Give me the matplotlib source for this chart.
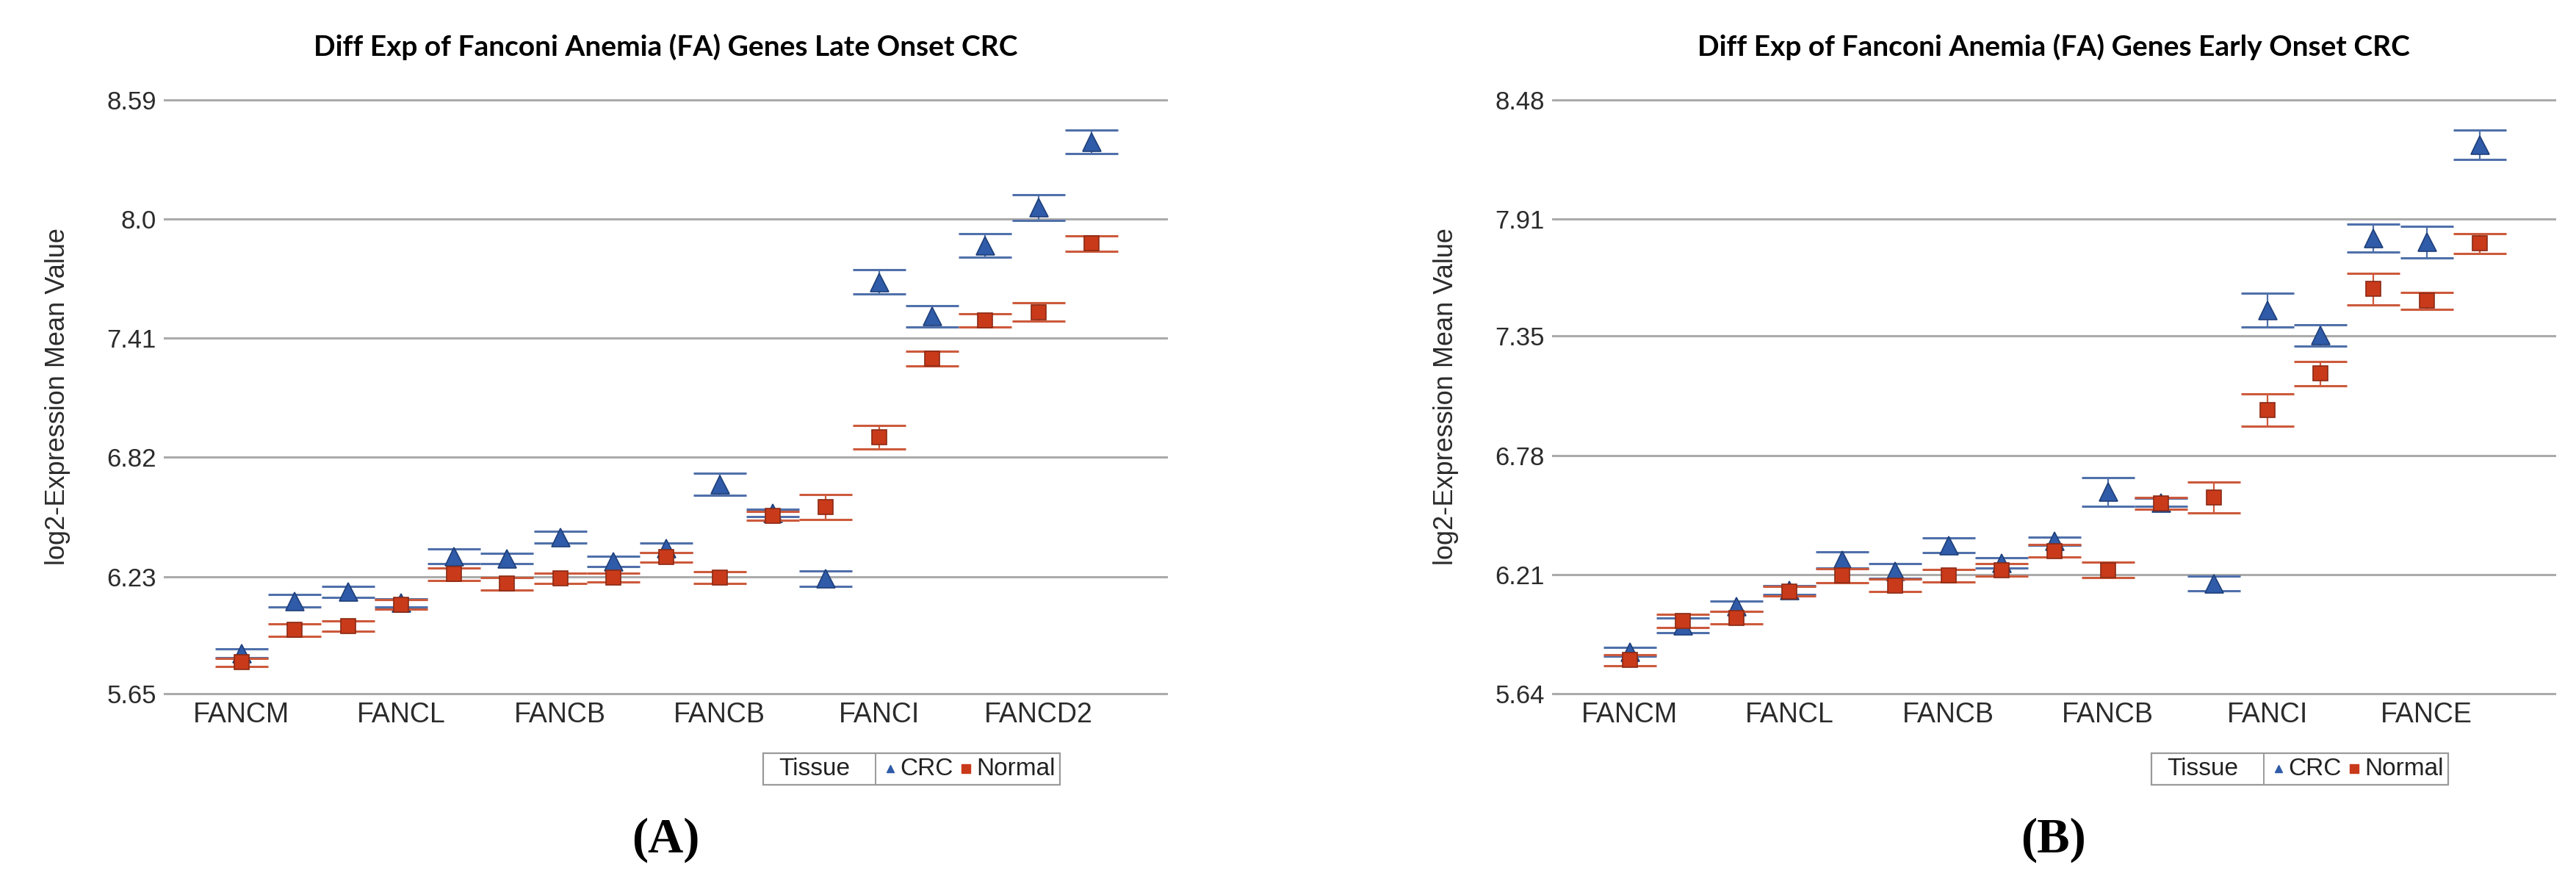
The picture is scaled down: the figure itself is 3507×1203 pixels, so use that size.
"""
Diff Exp of Fanconi Anemia (FA) Genes – Late vs. Early Onset CRC.
Mittelwerte +/- Fehlerbalken pro Gen, CRC vs. Normal.
"""

import matplotlib
matplotlib.use("Agg")
import matplotlib.pyplot as plt
from matplotlib.patches import Rectangle
import numpy as np

# ── Daten ─────────────────────────────────────────────────────────────────────

n_genes = 17
tick_every = 3

late_tick_labels = ["FANCM", "FANCL", "FANCB", "FANCB", "FANCI", "FANCD2"]
early_tick_labels = ["FANCM", "FANCL", "FANCB", "FANCB", "FANCI", "FANCE"]

late_yticks = [5.65, 6.23, 6.82, 7.41, 8.0, 8.59]
early_yticks = [5.64, 6.21, 6.78, 7.35, 7.91, 8.48]

late_crc = [5.85, 6.11, 6.154, 6.10, 6.33, 6.32, 6.425, 6.305, 6.372,
            6.687, 6.545, 6.221, 7.689, 7.519, 7.87, 8.057, 8.384]
late_crc_err = [0.022, 0.032, 0.028, 0.02, 0.035, 0.026, 0.028, 0.024, 0.024,
                0.056, 0.018, 0.038, 0.061, 0.054, 0.057, 0.065, 0.058]
late_normal = [5.805, 5.965, 5.986, 6.091, 6.242, 6.194, 6.221, 6.225, 6.326,
               6.225, 6.53, 6.574, 6.92, 7.309, 7.498, 7.54, 7.88]
late_normal_err = [0.02, 0.032, 0.026, 0.023, 0.03, 0.032, 0.026, 0.023, 0.024,
                   0.028, 0.022, 0.063, 0.058, 0.035, 0.034, 0.047, 0.038]

early_crc = [5.84, 5.968, 6.059, 6.135, 6.28, 6.228, 6.35, 6.266, 6.37,
             6.605, 6.555, 6.167, 7.474, 7.354, 7.819, 7.80, 8.265]
early_crc_err = [0.02, 0.035, 0.025, 0.02, 0.038, 0.035, 0.035, 0.025, 0.02,
                 0.068, 0.02, 0.034, 0.081, 0.051, 0.066, 0.074, 0.071]
early_normal = [5.80, 5.988, 6.003, 6.13, 6.205, 6.157, 6.205, 6.232, 6.323,
                6.232, 6.55, 6.579, 6.997, 7.171, 7.575, 7.52, 7.794]
early_normal_err = [0.025, 0.03, 0.03, 0.024, 0.034, 0.03, 0.03, 0.03, 0.03,
                    0.036, 0.027, 0.073, 0.076, 0.058, 0.074, 0.04, 0.047]

# ── Stil ──────────────────────────────────────────────────────────────────────

CRC_FILL = "#2F5BA8"
CRC_EDGE = "#1F3F7A"
CRC_CAP = "#5070AA"
NOR_FILL = "#C93A1A"
NOR_EDGE = "#8B2A14"
NOR_CAP = "#CC5A3C"
GRID = "#ABABAB"
TXT = "#2B2B2B"
SANS = "Liberation Sans"

W, H = 3507, 1203


def panel(fig, left_px, title, tick_labels, yticks, crc, crc_err, nor, nor_err, tag):
    ax = fig.add_axes([left_px / W, 1 - 944 / H, 1364 / W, (944 - 136) / H])
    x = np.arange(n_genes)

    ax.set_xlim(-1.45, 17.41)
    ax.set_ylim(yticks[0], yticks[-1])
    for s in ax.spines.values():
        s.set_visible(False)

    for yv in yticks:
        ax.axhline(yv, color=GRID, lw=2.2, zorder=0, clip_on=False)

    # CRC zuerst, Normal liegt darueber
    ax.errorbar(x, crc, yerr=crc_err, fmt="none", ecolor=CRC_CAP,
                elinewidth=1.6, capsize=26, capthick=2.2, zorder=2, clip_on=False)
    ax.plot(x, crc, ls="none", marker="^", ms=18, mfc=CRC_FILL, mec=CRC_EDGE,
            mew=1.2, zorder=3, clip_on=False)
    ax.errorbar(x, nor, yerr=nor_err, fmt="none", ecolor=NOR_CAP,
                elinewidth=1.6, capsize=26, capthick=2.2, zorder=4, clip_on=False)
    ax.plot(x, nor, ls="none", marker="s", ms=15, mfc=NOR_FILL, mec=NOR_EDGE,
            mew=1.2, zorder=5, clip_on=False)

    ax.set_xticks(x[::tick_every])
    ax.set_xticklabels(tick_labels, fontsize=27, family=SANS, color=TXT)
    ax.set_yticks(yticks)
    ax.set_yticklabels([f"{v:g}" if v != 8.0 else "8.0" for v in yticks],
                       fontsize=25, family=SANS, color=TXT)
    ax.tick_params(axis="both", length=0)
    ax.tick_params(axis="x", pad=8)
    ax.tick_params(axis="y", pad=8)

    ax.text(-0.107, 0.5, "log2-Expression Mean Value", rotation=90,
            ha="center", va="center", fontsize=26, family=SANS, color=TXT,
            transform=ax.transAxes)
    ax.text(0.5, 1.089, title, ha="center", va="center", fontsize=28,
            family="Lato", fontweight="bold", color="black",
            transform=ax.transAxes)
    ax.text(0.5, -0.246, f"({tag})", ha="center", va="center", fontsize=48,
            family="Liberation Serif", fontweight="bold", color="black",
            transform=ax.transAxes)

    # Legende als Kasten: "Tissue | ▲CRC ■Normal"
    y0, y1 = -0.1535, -0.1002
    ym = (y0 + y1) / 2
    box = Rectangle((0.5975, y0), 0.8937 - 0.5975, y1 - y0, transform=ax.transAxes,
                    fill=False, ec="#9A9A9A", lw=1.6, clip_on=False)
    ax.add_patch(box)
    ax.plot([0.7097, 0.7097], [y0, y1], color="#9A9A9A", lw=1.4,
            transform=ax.transAxes, clip_on=False)
    ax.text(0.613, ym, "Tissue", ha="left", va="center", fontsize=24,
            family=SANS, color="#222222", transform=ax.transAxes)
    ax.plot([0.7243], [ym], marker="^", ms=7, color=CRC_FILL, ls="none",
            transform=ax.transAxes, clip_on=False)
    ax.text(0.7339, ym, "CRC", ha="left", va="center", fontsize=24,
            family=SANS, color="#222222", transform=ax.transAxes)
    ax.plot([0.7999], [ym], marker="s", ms=8, color=NOR_FILL, ls="none",
            transform=ax.transAxes, clip_on=False)
    ax.text(0.8101, ym, "Normal", ha="left", va="center", fontsize=24,
            family=SANS, color="#222222", transform=ax.transAxes)
    return ax


fig = plt.figure(figsize=(W / 100, H / 100), dpi=100)
fig.patch.set_facecolor("white")

panel(fig, 224, "Diff Exp of Fanconi Anemia (FA) Genes Late Onset CRC",
      late_tick_labels, late_yticks, late_crc, late_crc_err,
      late_normal, late_normal_err, "A")
panel(fig, 2114, "Diff Exp of Fanconi Anemia (FA) Genes Early Onset CRC",
      early_tick_labels, early_yticks, early_crc, early_crc_err,
      early_normal, early_normal_err, "B")

fig.savefig("out.png", dpi=100)
plt.close(fig)
